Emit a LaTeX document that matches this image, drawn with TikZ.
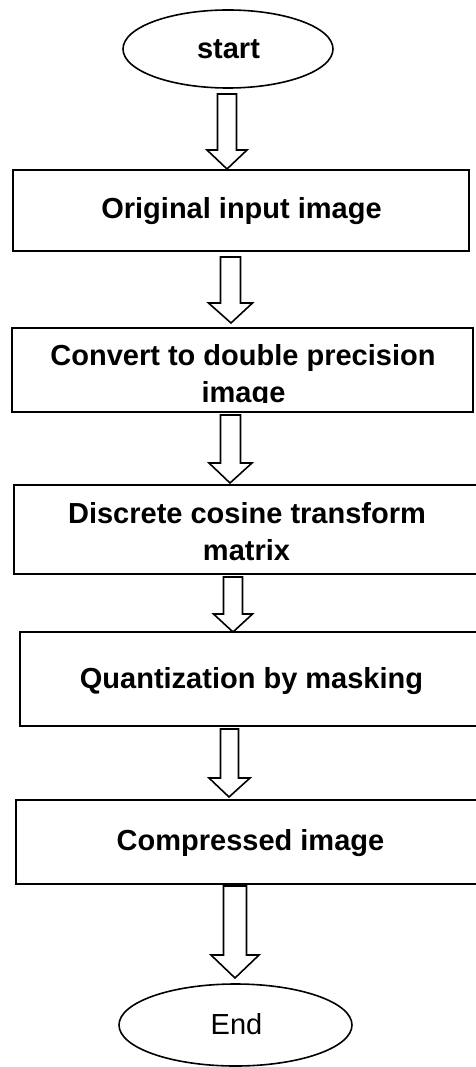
\documentclass[tikz,border=0pt]{standalone}
\usepackage{fontspec}
\setmainfont{Liberation Sans}
\usetikzlibrary{shapes.geometric,calc}
\tikzset{
  box/.style={draw=black, line width=2pt, rectangle, inner sep=0pt, fill=none},
  oval/.style={draw=black, line width=1.6pt, ellipse, inner sep=0pt},
  txt/.style={anchor=base, inner sep=0pt, font=\fontsize{29pt}{37pt}\selectfont\bfseries},
  txtreg/.style={anchor=base, inner sep=0pt, font=\fontsize{29pt}{37pt}\selectfont},
  arrowline/.style={draw=black, line width=1.6pt, fill=white, line join=miter}
}
% #1 top coordinate, #2 tip coordinate, #3 half shaft, #4 half head, #5 head length
\newcommand\blockarr[5]{%
  \draw[arrowline] let \p1=(#1), \p2=(#2) in
    (\x1-#3pt,\y1) -- (\x1+#3pt,\y1) -- (\x1+#3pt,\y2+#5pt) -- (\x1+#4pt,\y2+#5pt)
    -- (\x2,\y2) -- (\x1-#4pt,\y2+#5pt) -- (\x1-#3pt,\y2+#5pt) -- cycle;}
\begin{document}
\begin{tikzpicture}[x=1pt,y=-1pt]
\useasboundingbox (0,0) rectangle (476,1067);
\clip (0,0) rectangle (476,1067);
\fill[white] (0,0) rectangle (476,1067);

% terminals
\node[oval, minimum width=210pt, minimum height=78pt] (start) at (228,49) {};
\node[oval, minimum width=233pt, minimum height=82pt] (end) at (235.5,1025) {};

% boxes
\node[box, minimum width=456pt, minimum height=81pt] (b1) at (241,210.5) {};
\node[box, minimum width=461pt, minimum height=84pt] (b2) at (242.5,370) {};
\node[box, minimum width=466pt, minimum height=89pt] (b3) at (247,529.5) {};
\node[box, minimum width=460pt, minimum height=94pt] (b4) at (250,679) {};
\node[box, minimum width=464pt, minimum height=84pt] (b5) at (248,842) {};

% texts
\node[txt] (tstart) at (228.5,59) {start};
\node[txt] (t1) at (241.5,219) {Original input image};
\node[txt] (t2a) at (243,365) {Convert to double precision};
\begin{scope}
  \clip (0,327) rectangle (476,402.5);
  \node[txt] (t2b) at (243.5,402) {image};
\end{scope}
\node[txt] (t3a) at (247,523) {Discrete cosine transform};
\node[txt] (t3b) at (246.5,560) {matrix};
\node[txt] (t4) at (251.5,688) {Quantization by masking};
\node[txt] (t5) at (250.5,850) {Compressed image};
\node[txtreg] (tend) at (236.5,1034) {End};

% block arrows
\coordinate (a1s) at (227,94);    \coordinate (a1e) at (227,169);
\coordinate (a2s) at (230.5,257); \coordinate (a2e) at (231,323);
\coordinate (a3s) at (230.5,415); \coordinate (a3e) at (230,483);
\coordinate (a4s) at (233,577);   \coordinate (a4e) at (233,632);
\coordinate (a5s) at (229.5,729); \coordinate (a5e) at (229,797);
\coordinate (a6s) at (235,886);   \coordinate (a6e) at (235,978);
\blockarr{a1s}{a1e}{9.5}{20}{19}
\blockarr{a2s}{a2e}{10}{22}{20}
\blockarr{a3s}{a3e}{10}{21.5}{20}
\blockarr{a4s}{a4e}{9.5}{19.5}{18}
\blockarr{a5s}{a5e}{9}{20.5}{19}
\blockarr{a6s}{a6e}{11.5}{24}{23}
\end{tikzpicture}
\end{document}
